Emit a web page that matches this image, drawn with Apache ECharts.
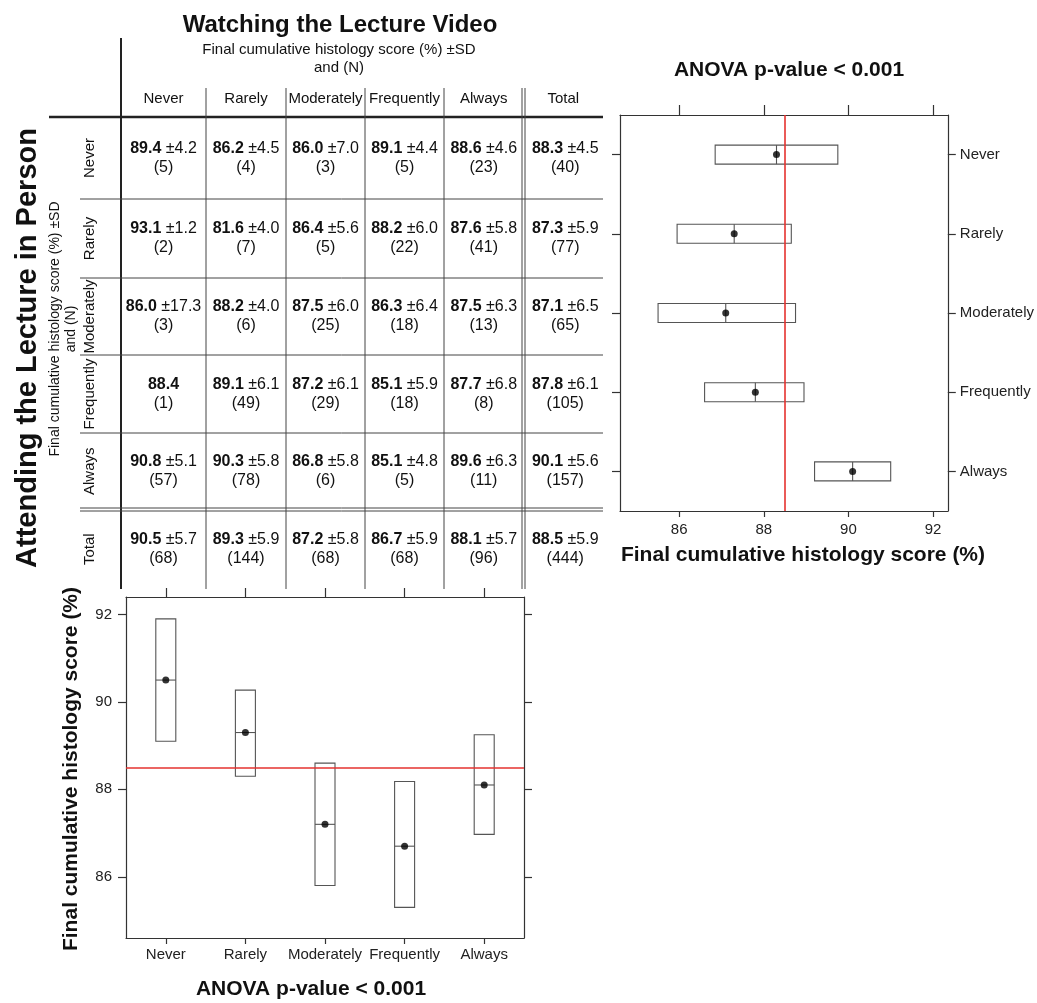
<!DOCTYPE html>
<html>
<head>
<meta charset="utf-8">
<title>Final cumulative histology score</title>
<script src="https://cdn.jsdelivr.net/npm/echarts@6/dist/echarts.min.js"></script>
<style>
html,body{margin:0;padding:0;background:#fff;}
#chart{width:1037px;height:1003px;}
</style>
</head>
<body>
<div id="chart"></div>
<script>
var levels = ['Never', 'Rarely', 'Moderately', 'Frequently', 'Always'];

// table cells: rows = attending in person, columns = watching the video
var cellMean = [
    [89.4, 86.2, 86.0, 89.1, 88.6],
    [93.1, 81.6, 86.4, 88.2, 87.6],
    [86.0, 88.2, 87.5, 86.3, 87.5],
    [88.4, 89.1, 87.2, 85.1, 87.7],
    [90.8, 90.3, 86.8, 85.1, 89.6]
];
var cellSD = [
    [4.2, 4.5, 7.0, 4.4, 4.6],
    [1.2, 4.0, 5.6, 6.0, 5.8],
    [17.3, 4.0, 6.0, 6.4, 6.3],
    [null, 6.1, 6.1, 5.9, 6.8],
    [5.1, 5.8, 5.8, 4.8, 6.3]
];
var cellN = [
    [5, 4, 3, 5, 23],
    [2, 7, 5, 22, 41],
    [3, 6, 25, 18, 13],
    [1, 49, 29, 18, 8],
    [57, 78, 6, 5, 11]
];

// totals for attending in person (rows)
var personMean = [88.3, 87.3, 87.1, 87.8, 90.1];
var personSD = [4.5, 5.9, 6.5, 6.1, 5.6];
var personN = [40, 77, 65, 105, 157];
// totals for watching the video (columns)
var videoMean = [90.5, 89.3, 87.2, 86.7, 88.1];
var videoSD = [5.7, 5.9, 5.8, 5.9, 5.7];
var videoN = [68, 144, 68, 68, 96];
var totalMean = 88.5, totalSD = 5.9, totalN = 444;

// boxes
var personLow = [86.85, 85.95, 85.5, 86.6, 89.2];
var personHigh = [89.75, 88.65, 88.75, 88.95, 91.0];
var videoLow = [89.1, 88.3, 85.8, 85.3, 86.97];
var videoHigh = [91.9, 90.27, 88.6, 88.18, 89.25];
var refLine = 88.5;
var scoreTicks = [86, 88, 90, 92];

var FONT = 'Liberation Sans, Arial, sans-serif';
var INK = '#111';

// ---- table geometry
var colX = [121, 206, 286, 365, 444, 523.5, 603];
var rowY = [117, 199, 278, 355, 433, 509.5, 589];

function line(x1, y1, x2, y2, w, c) {
    return {type: 'line', silent: true, z: 5,
        shape: {x1: x1, y1: y1, x2: x2, y2: y2},
        style: {stroke: c || '#444', lineWidth: w || 1}};
}
function text(str, x, y, size, bold, rot, lh) {
    return {type: 'text', silent: true, z: 6, x: x, y: y, rotation: rot || 0,
        style: {text: str, fill: INK, align: 'center', verticalAlign: 'middle',
            font: (bold ? 'bold ' : '') + size + 'px ' + FONT, lineHeight: lh || size + 2}};
}
function cell(mean, sd, n, x, y) {
    var s = '{b|' + mean.toFixed(1) + '}' + (sd == null ? '' : ' ±' + sd.toFixed(1)) + '\n(' + n + ')';
    return {type: 'text', silent: true, z: 6, x: x, y: y,
        style: {text: s, fill: INK, align: 'center', verticalAlign: 'middle',
            font: '16px ' + FONT, lineHeight: 19,
            rich: {b: {fontWeight: 'bold', fontSize: 16, fontFamily: FONT, fill: INK, lineHeight: 19}}}};
}

var g = [];
// lines
g.push(line(49, 117, 603, 117, 2.5, '#222'));
g.push(line(121, 38, 121, 589, 2, '#222'));
for (var i = 1; i < 5; i++) g.push(line(colX[i], 88, colX[i], 589, 1));
g.push(line(522, 88, 522, 589, 1));
g.push(line(525, 88, 525, 589, 1));
for (var j = 1; j < 5; j++) g.push(line(80, rowY[j], 603, rowY[j], 1));
g.push(line(80, 508, 603, 508, 1));
g.push(line(80, 511, 603, 511, 1));

// titles
g.push(text('Watching the Lecture Video', 340, 25, 24, true));
g.push(text('Final cumulative histology score (%) ±SD\nand (N)', 339, 59, 15, false, 0, 18));
g.push(text('Attending the Lecture in Person', 28, 348, 29, true, Math.PI / 2));
g.push(text('Final cumulative histology score (%) ±SD\nand (N)', 63, 329, 14, false, Math.PI / 2, 16));

var colHeads = levels.concat(['Total']);
for (var c = 0; c < 6; c++) {
    var cx = (colX[c] + colX[c + 1]) / 2;
    g.push(text(colHeads[c], cx, 99, 15, false));
}
for (var r = 0; r < 6; r++) {
    var cy = (rowY[r] + rowY[r + 1]) / 2;
    g.push(text(colHeads[r], 90, cy, 15, false, Math.PI / 2));
    for (var k = 0; k < 6; k++) {
        var x = (colX[k] + colX[k + 1]) / 2;
        if (r < 5 && k < 5) g.push(cell(cellMean[r][k], cellSD[r][k], cellN[r][k], x, cy));
        else if (r < 5) g.push(cell(personMean[r], personSD[r], personN[r], x + 2, cy));
        else if (k < 5) g.push(cell(videoMean[k], videoSD[k], videoN[k], x, cy));
        else g.push(cell(totalMean, totalSD, totalN, x + 2, cy));
    }
}

// plot titles
g.push(text('ANOVA p-value < 0.001', 789, 70, 21, true));
g.push(text('Final cumulative histology score (%)', 803, 555, 21, true));
g.push(text('Final cumulative histology score (%)', 71, 769, 21, true, Math.PI / 2));
g.push(text('ANOVA p-value < 0.001', 311, 989, 21, true));

var axLine = {show: true, lineStyle: {color: '#333', width: 1.2}};
var tickStyle = {color: '#333', width: 1.2};
var lbl = {color: '#222', fontSize: 15, fontFamily: FONT};

var personBoxes = [], personDots = [], videoBoxes = [], videoDots = [];
for (var q = 0; q < levels.length; q++) {
    personBoxes.push([q, personLow[q], personHigh[q], personMean[q]]);
    personDots.push([personMean[q], q]);
    videoBoxes.push([q, videoLow[q], videoHigh[q], videoMean[q]]);
    videoDots.push([q, videoMean[q]]);
}

var boxStyle = {fill: 'none', stroke: '#555', lineWidth: 1.1};
var refMark = {silent: true, symbol: 'none', label: {show: false},
    lineStyle: {color: '#e5322f', width: 1.6, type: 'solid'}};

var option = {
    animation: false,
    backgroundColor: '#fff',
    graphic: g,
    grid: [
        {left: 620, top: 115, width: 330, height: 396},
        {left: 126, top: 597, width: 398, height: 341}
    ],
    xAxis: [
        {gridIndex: 0, type: 'value', min: 84.6, max: 92.35, position: 'bottom',
            axisLine: axLine, splitLine: {show: false},
            axisTick: {show: true, length: 6, lineStyle: tickStyle, customValues: scoreTicks},
            axisLabel: Object.assign({margin: 11, customValues: scoreTicks}, lbl)},
        {gridIndex: 0, type: 'value', min: 84.6, max: 92.35, position: 'top',
            axisLine: axLine, splitLine: {show: false},
            axisTick: {show: true, length: 10, lineStyle: tickStyle, customValues: scoreTicks},
            axisLabel: {show: false}},
        {gridIndex: 1, type: 'category', data: levels, position: 'bottom',
            axisLine: axLine,
            axisTick: {show: true, length: 6, alignWithLabel: true, interval: 0, lineStyle: tickStyle},
            axisLabel: Object.assign({margin: 9, interval: 0}, lbl)},
        {gridIndex: 1, type: 'category', data: levels, position: 'top',
            axisLine: axLine,
            axisTick: {show: true, length: 9, alignWithLabel: true, interval: 0, lineStyle: tickStyle},
            axisLabel: {show: false}}
    ],
    yAxis: [
        {gridIndex: 0, type: 'category', data: levels, inverse: true, position: 'right',
            axisLine: axLine,
            axisTick: {show: true, length: 8, alignWithLabel: true, interval: 0, lineStyle: tickStyle},
            axisLabel: Object.assign({margin: 12, interval: 0}, lbl)},
        {gridIndex: 0, type: 'category', data: levels, inverse: true, position: 'left',
            axisLine: axLine,
            axisTick: {show: true, length: 8, alignWithLabel: true, interval: 0, lineStyle: tickStyle},
            axisLabel: {show: false}},
        {gridIndex: 1, type: 'value', min: 84.6, max: 92.4, position: 'left',
            axisLine: axLine, splitLine: {show: false},
            axisTick: {show: true, length: 8, lineStyle: tickStyle, customValues: scoreTicks},
            axisLabel: Object.assign({margin: 14, customValues: scoreTicks}, lbl)},
        {gridIndex: 1, type: 'value', min: 84.6, max: 92.4, position: 'right',
            axisLine: axLine, splitLine: {show: false},
            axisTick: {show: true, length: 8, lineStyle: tickStyle, customValues: scoreTicks},
            axisLabel: {show: false}}
    ],
    series: [
        {
            type: 'custom', xAxisIndex: 0, yAxisIndex: 0, data: personBoxes,
            encode: {x: [1, 2, 3], y: 0},
            renderItem: function (params, api) {
                var cat = api.value(0);
                var lo = api.coord([api.value(1), cat]);
                var hi = api.coord([api.value(2), cat]);
                var m = api.coord([api.value(3), cat]);
                var h = 9.5;
                return {type: 'group', children: [
                    {type: 'rect', shape: {x: lo[0], y: lo[1] - h, width: hi[0] - lo[0], height: 2 * h}, style: boxStyle},
                    {type: 'line', shape: {x1: m[0], y1: m[1] - h, x2: m[0], y2: m[1] + h}, style: {stroke: '#555', lineWidth: 1.1}}
                ]};
            }
        },
        {
            type: 'scatter', xAxisIndex: 0, yAxisIndex: 0, data: personDots,
            symbolSize: 7, itemStyle: {color: '#000'},
            markLine: Object.assign({data: [{xAxis: refLine}]}, refMark)
        },
        {
            type: 'custom', xAxisIndex: 2, yAxisIndex: 2, data: videoBoxes,
            encode: {x: 0, y: [1, 2, 3]},
            renderItem: function (params, api) {
                var cat = api.value(0);
                var lo = api.coord([cat, api.value(1)]);
                var hi = api.coord([cat, api.value(2)]);
                var m = api.coord([cat, api.value(3)]);
                var w = 10;
                return {type: 'group', children: [
                    {type: 'rect', shape: {x: hi[0] - w, y: hi[1], width: 2 * w, height: lo[1] - hi[1]}, style: boxStyle},
                    {type: 'line', shape: {x1: m[0] - w, y1: m[1], x2: m[0] + w, y2: m[1]}, style: {stroke: '#555', lineWidth: 1.1}}
                ]};
            }
        },
        {
            type: 'scatter', xAxisIndex: 2, yAxisIndex: 2, data: videoDots,
            symbolSize: 7, itemStyle: {color: '#000'},
            markLine: Object.assign({data: [{yAxis: refLine}]}, refMark)
        }
    ]
};

var chart = echarts.init(document.getElementById('chart'));
chart.setOption(option);
</script>
</body>
</html>
